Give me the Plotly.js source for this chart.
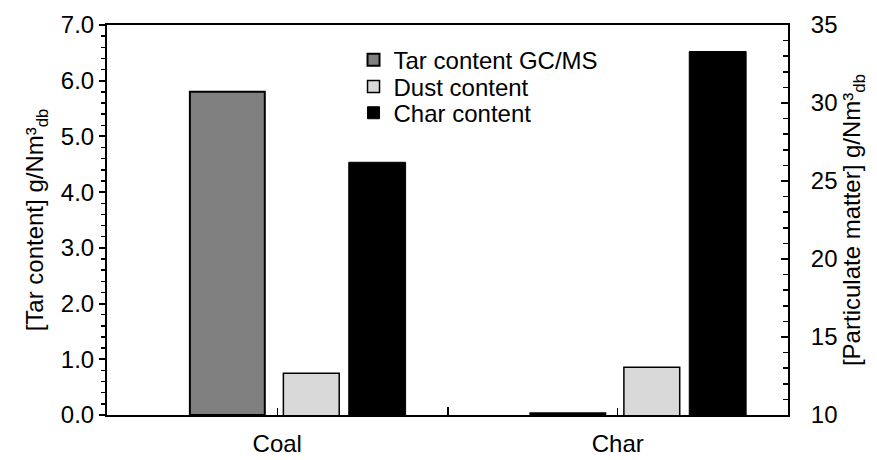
<!DOCTYPE html>
<html>
<head>
<meta charset="utf-8">
<script src="https://cdn.plot.ly/plotly-3.0.1.min.js"></script>
<style>
  html, body { margin: 0; padding: 0; background: #ffffff; }
  #chart { width: 877px; height: 460px; }
</style>
</head>
<body>
<div id="chart"></div>
<script>
// Fuel types on the category axis
const categories = ['Coal', 'Char'];

// Tar content (left axis, g/Nm³ db)
const tarContent = [5.80, 0.03];
// Particulate matter (right axis, g/Nm³ db)
const dustContent = [12.67, 13.06];
const charContent = [26.2, 33.3];

const seriesNames = ['Tar content GC/MS', 'Dust content', 'Char content'];

const leftTicks = [0, 1, 2, 3, 4, 5, 6, 7];
const leftTickText = ['0.0', '1.0', '2.0', '3.0', '4.0', '5.0', '6.0', '7.0'];
const rightTicks = [10, 15, 20, 25, 30, 35];

const font = 'Liberation Sans, Arial, sans-serif';

const traces = [
  {
    type: 'bar', name: seriesNames[0], x: categories, y: tarContent,
    xaxis: 'x', yaxis: 'y', legend: 'legend',
    width: 0.22, offset: -0.2566,
    marker: { color: '#808080', line: { color: '#000000', width: 2 } }
  },
  {
    type: 'bar', name: seriesNames[1], x: categories, y: dustContent,
    xaxis: 'x2', yaxis: 'y2', legend: 'legend2',
    width: 0.164, offset: 0.018,
    marker: { color: '#d9d9d9', line: { color: '#000000', width: 1.5 } }
  },
  {
    type: 'bar', name: seriesNames[2], x: categories, y: charContent,
    xaxis: 'x2', yaxis: 'y2', legend: 'legend3',
    width: 0.167, offset: 0.21,
    marker: { color: '#000000', line: { color: '#000000', width: 1 } }
  }
];

// one legend box per entry so the rows sit at the tight spacing
function legendRow(yPaper) {
  return {
    x: 0.362, y: yPaper, xanchor: 'left', yanchor: 'middle',
    bgcolor: 'rgba(0,0,0,0)', borderwidth: 0,
    font: { family: font, size: 24, color: '#000' },
    itemwidth: 30
  };
}

const layout = {
  width: 877, height: 460,
  margin: { l: 107, r: 89, t: 25, b: 45 },
  paper_bgcolor: '#ffffff', plot_bgcolor: '#ffffff',
  font: { family: font, color: '#000000', size: 24 },
  barmode: 'overlay',
  showlegend: true,
  legend: legendRow(0.910),
  legend2: legendRow(0.841),
  legend3: legendRow(0.774),
  xaxis: {
    type: 'category', categoryorder: 'array', categoryarray: categories,
    range: [-0.5, 1.5], tickson: 'boundaries',
    ticks: 'inside', ticklen: 8, tickwidth: 2, tickcolor: '#000',
    showline: true, mirror: true, linecolor: '#000', linewidth: 2,
    showgrid: false, zeroline: false,
    ticklabelstandoff: 6,
    tickfont: { family: font, size: 24 }
  },
  xaxis2: {
    type: 'category', categoryorder: 'array', categoryarray: categories,
    range: [-0.5, 1.5], overlaying: 'x', anchor: 'y2', side: 'bottom',
    ticks: 'inside', ticklen: 7, tickwidth: 1, tickcolor: '#000',
    showticklabels: false, showline: false, showgrid: false, zeroline: false
  },
  yaxis: {
    range: [0, 7], tickvals: leftTicks, ticktext: leftTickText,
    ticks: 'outside', ticklen: 6, tickwidth: 2, tickcolor: '#000',
    minor: { dtick: 0.2, ticks: 'outside', ticklen: 4, tickwidth: 1.5, tickcolor: '#000' },
    showline: true, linecolor: '#000', linewidth: 2,
    showgrid: false, zeroline: false,
    tickfont: { family: font, size: 24 },
    title: { text: '[Tar content] g/Nm³<sub>db</sub>', font: { family: font, size: 24 }, standoff: 10 }
  },
  yaxis2: {
    overlaying: 'y', side: 'right', anchor: 'x',
    range: [10, 35], tickvals: rightTicks,
    ticks: 'inside', ticklen: 7, tickwidth: 2, tickcolor: '#000',
    minor: { dtick: 1, ticks: 'inside', ticklen: 5, tickwidth: 1.5, tickcolor: '#000' },
    showline: true, linecolor: '#000', linewidth: 2,
    showgrid: false, zeroline: false,
    ticklabelstandoff: 16,
    tickfont: { family: font, size: 24 },
    title: { text: '[Particulate matter] g/Nm³<sub>db</sub>', font: { family: font, size: 24 }, standoff: 4 }
  }
};

Plotly.newPlot('chart', traces, layout, { displayModeBar: false, staticPlot: true });
</script>
</body>
</html>
